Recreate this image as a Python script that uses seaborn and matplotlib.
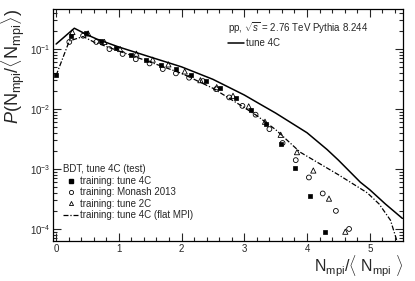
import numpy as np
import pandas as pd
import seaborn as sns
import matplotlib.pyplot as plt
from matplotlib.lines import Line2D
from matplotlib.ticker import MultipleLocator, LogLocator, NullFormatter

# Pythia tune 4C (truth), solid line
truth_x = [0.0, 0.29, 0.5, 0.65, 1.0, 1.5, 2.0, 2.5, 3.0, 3.25, 3.5, 4.0, 4.32, 4.5, 4.85, 5.0, 5.25, 5.52]
truth_y = [0.12, 0.22, 0.17, 0.145, 0.107, 0.073, 0.05, 0.031, 0.017, 0.012, 0.0085, 0.0040, 0.0021,
           0.0014, 6.0e-4, 4.5e-4, 2.6e-4, 1.5e-4]

# BDT trained on tune 4C with flat MPI, dash-dot line
flat_x = [0.0, 0.21, 0.43, 0.6, 1.0, 1.5, 2.0, 2.5, 3.0, 3.2, 3.5, 3.89, 4.5, 4.96, 5.15, 5.33, 5.44]
flat_y = [0.036, 0.135, 0.16, 0.13, 0.092, 0.06, 0.039, 0.022, 0.0105, 0.0077, 0.0045, 0.0019,
          8.0e-4, 4.0e-4, 2.6e-4, 1.4e-4, 6.0e-5]

# BDT trained on tune 4C, filled squares
sq_x = [0.0, 0.24, 0.48, 0.72, 0.96, 1.19, 1.43, 1.67, 1.91, 2.15, 2.39, 2.62, 2.86, 3.1,
        3.34, 3.58, 3.81, 4.05, 4.29]
sq_y = [0.036, 0.165, 0.18, 0.136, 0.103, 0.079, 0.065, 0.054, 0.046, 0.037, 0.029, 0.022,
        0.015, 0.0096, 0.0056, 0.0026, 0.00104, 3.5e-4, 8.9e-5]

# BDT trained on Monash 2013, open circles
circ_x = [0.21, 0.43, 0.64, 0.85, 1.06, 1.27, 1.49, 1.7, 1.91, 2.12, 2.34, 2.55, 2.76, 2.97,
          3.18, 3.4, 3.61, 3.82, 4.03, 4.25, 4.46, 4.67]
circ_y = [0.13, 0.165, 0.13, 0.099, 0.082, 0.067, 0.057, 0.046, 0.039, 0.033, 0.029, 0.0213,
          0.0155, 0.0112, 0.008, 0.0046, 0.0027, 0.0014, 7.2e-4, 3.9e-4, 2.0e-4, 1.0e-4]

# BDT trained on tune 2C, open triangles
tri_x = [0.26, 0.51, 0.77, 1.02, 1.28, 1.54, 1.79, 2.05, 2.3, 2.56, 2.82, 3.07, 3.33, 3.58,
         3.84, 4.1, 4.35, 4.61]
tri_y = [0.19, 0.18, 0.13, 0.099, 0.083, 0.066, 0.055, 0.042, 0.03, 0.023, 0.0165, 0.011,
         0.0061, 0.0037, 0.0019, 9.4e-4, 3.2e-4, 9.0e-5]

sns.set_theme(style="ticks")
plt.rcParams["font.family"] = ["Liberation Sans", "DejaVu Sans"]
plt.rcParams["mathtext.fontset"] = "custom"
plt.rcParams["mathtext.rm"] = "Liberation Sans"
plt.rcParams["mathtext.it"] = "Liberation Sans:italic"
plt.rcParams["mathtext.bf"] = "Liberation Sans:bold"

fig = plt.figure(figsize=(4.15, 2.81), dpi=100)
ax = fig.add_axes([0.1277, 0.1423, 0.8434, 0.8257])

truth = pd.DataFrame({"x": truth_x, "y": truth_y})
flat = pd.DataFrame({"x": flat_x, "y": flat_y})
sns.lineplot(data=truth, x="x", y="y", ax=ax, color="black", lw=1.1, sort=False)
sns.lineplot(data=flat, x="x", y="y", ax=ax, color="black", lw=0.9, sort=False,
             dashes=False)
ax.lines[-1].set_dashes([4, 1.5, 1, 1.5])

sns.scatterplot(x=sq_x, y=sq_y, ax=ax, marker="s", s=10, color="black", edgecolor="black",
                linewidth=0.5)
sns.scatterplot(x=circ_x, y=circ_y, ax=ax, marker="o", s=12, facecolor="none",
                edgecolor="black", linewidth=0.6)
sns.scatterplot(x=tri_x, y=tri_y, ax=ax, marker="^", s=14, facecolor="none",
                edgecolor="black", linewidth=0.6)

ax.set_yscale("log")
ax.set_xlim(-0.05, 5.53)
ax.set_ylim(6.3e-5, 0.46)
ax.xaxis.set_major_locator(MultipleLocator(1))
ax.xaxis.set_minor_locator(MultipleLocator(0.2))
ax.yaxis.set_major_locator(LogLocator(base=10, numticks=10))
ax.yaxis.set_minor_locator(LogLocator(base=10, subs=np.arange(2, 10), numticks=20))
ax.yaxis.set_minor_formatter(NullFormatter())
ax.tick_params(which="both", direction="in", top=True, right=True, width=0.8,
               labelsize=7, pad=2)
ax.tick_params(which="major", length=6)
ax.tick_params(which="minor", length=3)
for sp in ax.spines.values():
    sp.set_linewidth(0.9)
    sp.set_color("black")

ax.set_xlabel(r"N$_{\rm mpi}$/$\langle$ N$_{\rm mpi}$ $\rangle$", fontsize=11.5, loc="right",
              labelpad=-0.5)
ax.set_ylabel(r"$P$(N$_{\rm mpi}$/$\langle$N$_{\rm mpi}$$\rangle$)", fontsize=13, loc="top",
              labelpad=2)

top_handles = [Line2D([], [], color="black", lw=1.1)]
leg1 = ax.legend(top_handles, ["tune 4C"], title=r"pp, $\sqrt{s}$ = 2.76 TeV Pythia 8.244",
                 loc="upper left", bbox_to_anchor=(0.5, 0.95), frameon=False, fontsize=7,
                 title_fontsize=7, alignment="left", handlelength=1.6, handletextpad=0.3,
                 borderpad=0, borderaxespad=0, labelspacing=0.2)
ax.add_artist(leg1)

bdt_handles = [
    Line2D([], [], ls="none", marker="s", ms=3, color="black"),
    Line2D([], [], ls="none", marker="o", ms=3, mfc="none", mec="black", mew=0.6),
    Line2D([], [], ls="none", marker="^", ms=3, mfc="none", mec="black", mew=0.6),
    Line2D([], [], color="black", lw=0.9, dashes=[4, 1.5, 1, 1.5]),
]
bdt_labels = ["training: tune 4C", "training: Monash 2013", "training: tune 2C",
              "training: tune 4C (flat MPI)"]
ax.legend(bdt_handles, bdt_labels, title="BDT, tune 4C (test)", loc="upper left",
          bbox_to_anchor=(0.03, 0.33), frameon=False, fontsize=7, title_fontsize=7,
          alignment="left", handlelength=1.5, handletextpad=0.2, borderpad=0,
          borderaxespad=0, labelspacing=0.15)

fig.savefig("out.png", dpi=100)
